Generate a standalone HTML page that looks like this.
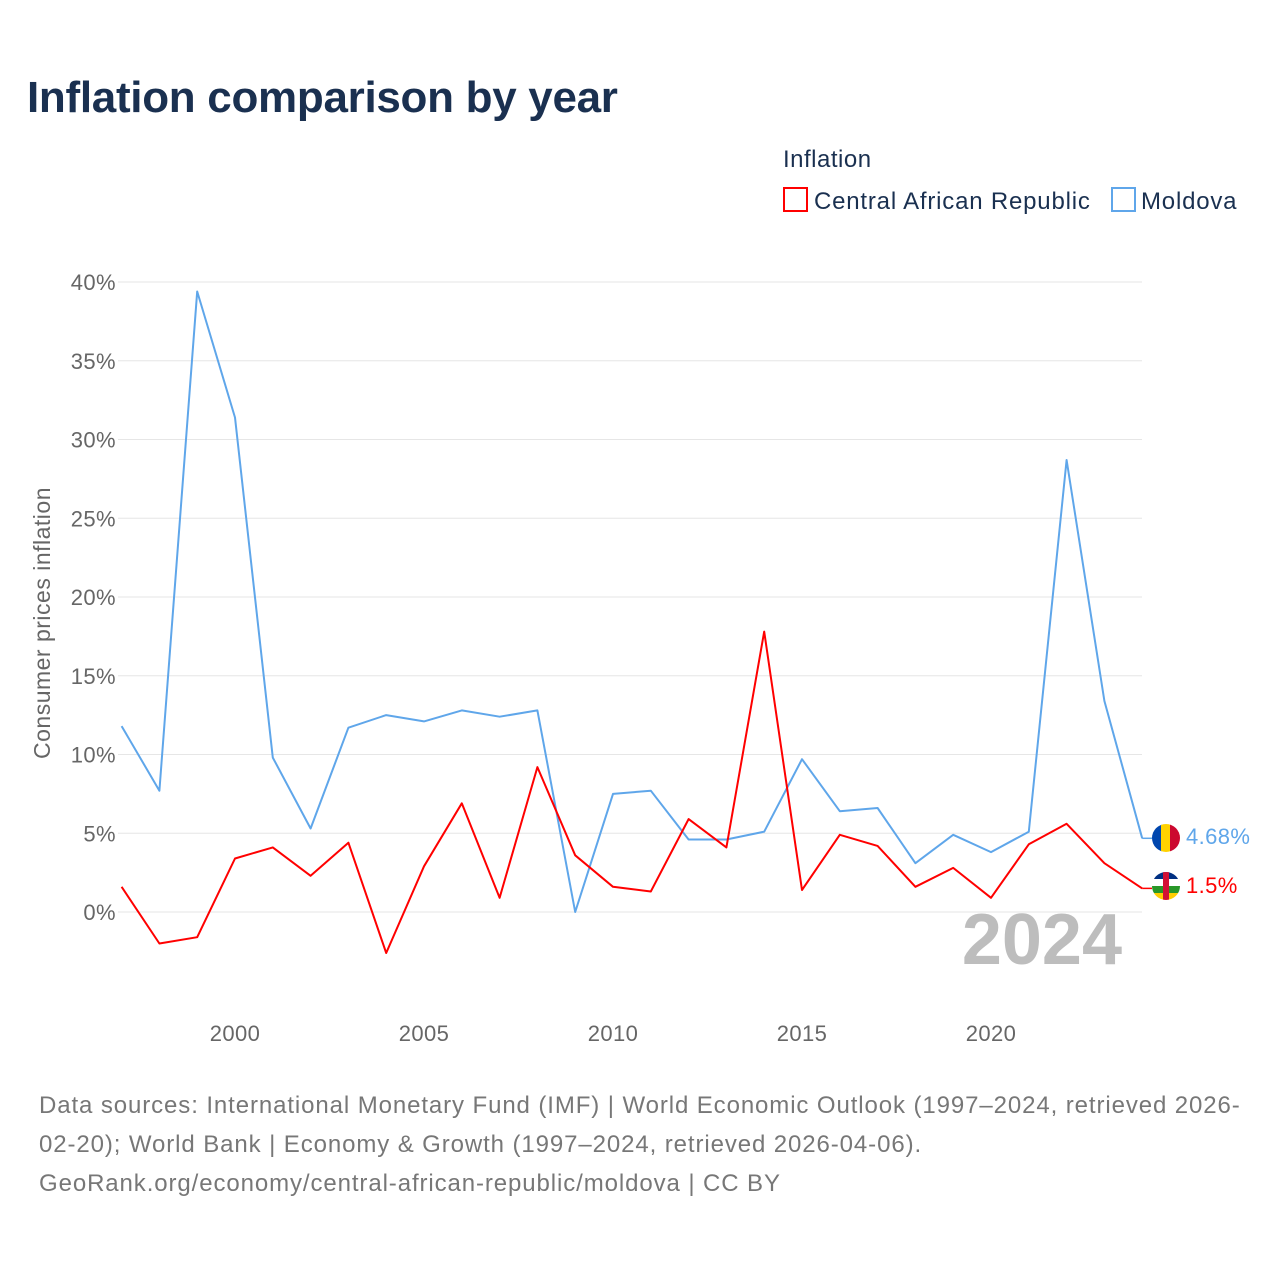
<!DOCTYPE html>
<html><head><meta charset="utf-8">
<style>
body{margin:0;background:#fff;width:1280px;height:1280px;overflow:hidden;font-family:"Liberation Sans",sans-serif}
</style></head>
<body>
<svg id="chart" width="1280" height="1280" xmlns="http://www.w3.org/2000/svg" font-family="Liberation Sans, sans-serif">
<text x="27" y="112" font-size="44" font-weight="bold" fill="#1a3050" letter-spacing="-0.3">Inflation comparison by year</text>
<text x="783" y="167" font-size="24" fill="#1a3050" letter-spacing="0.5">Inflation</text>
<rect x="784" y="188" width="23" height="23" fill="none" stroke="#f00" stroke-width="2"/>
<text x="814" y="209" font-size="24" fill="#1a3050" letter-spacing="0.8">Central African Republic</text>
<rect x="1112" y="188" width="23" height="23" fill="none" stroke="#5fa6ea" stroke-width="2"/>
<text x="1141" y="209" font-size="24" fill="#1a3050" letter-spacing="0.8">Moldova</text>
<g id="grid"></g>
<g id="yticks"></g>
<g id="xticks"></g>
<text transform="translate(50,623) rotate(-90)" text-anchor="middle" font-size="23" fill="#666" letter-spacing="0.5">Consumer prices inflation</text>
<text x="1122" y="964" text-anchor="end" font-size="72" font-weight="bold" fill="#bdbdbd">2024</text>
<g id="series"></g>
<g>
<clipPath id="c1"><circle cx="1166" cy="838" r="14"/></clipPath>
<g clip-path="url(#c1)"><rect x="1152" y="824" width="10" height="28" fill="#0046ae"/><rect x="1161" y="824" width="10" height="28" fill="#ffd200"/><rect x="1170" y="824" width="10" height="28" fill="#cc092f"/></g></g>
<g>
<clipPath id="c2"><circle cx="1166" cy="886" r="14"/></clipPath>
<g clip-path="url(#c2)"><rect x="1152" y="872" width="28" height="7" fill="#003082"/><rect x="1152" y="879" width="28" height="7" fill="#fff"/><rect x="1152" y="886" width="28" height="7" fill="#289728"/><rect x="1152" y="893" width="28" height="7" fill="#ffce00"/><rect x="1163" y="872" width="6" height="28" fill="#d21034"/></g></g>
<text x="1186" y="844" font-size="22" fill="#5fa6ea" letter-spacing="0.4">4.68%</text>
<text x="1186" y="893" font-size="22" fill="#f00" letter-spacing="0.4">1.5%</text>
<text font-size="24" fill="#777" letter-spacing="0.9"><tspan x="39" y="1113">Data sources: International Monetary Fund (IMF) | World Economic Outlook (1997–2024, retrieved 2026-</tspan><tspan x="39" y="1152">02-20); World Bank | Economy &amp; Growth (1997–2024, retrieved 2026-04-06).</tspan><tspan x="39" y="1191">GeoRank.org/economy/central-african-republic/moldova | CC BY</tspan></text>
</svg>
<script>
const years=[1997,1998,1999,2000,2001,2002,2003,2004,2005,2006,2007,2008,2009,2010,2011,2012,2013,2014,2015,2016,2017,2018,2019,2020,2021,2022,2023,2024];
const moldova=[11.8,7.7,39.4,31.4,9.8,5.3,11.7,12.5,12.1,12.8,12.4,12.8,0,7.5,7.7,4.6,4.6,5.1,9.7,6.4,6.6,3.1,4.9,3.8,5.1,28.7,13.4,4.68];
const car=[1.6,-2.0,-1.6,3.4,4.1,2.3,4.4,-2.6,2.9,6.9,0.9,9.2,3.6,1.6,1.3,5.9,4.1,17.8,1.4,4.9,4.2,1.6,2.8,0.9,4.3,5.6,3.1,1.5];
const yTicks=[0,5,10,15,20,25,30,35,40];
const xTicks=[2000,2005,2010,2015,2020];
const NS="http://www.w3.org/2000/svg";
const x=v=>121.6+(v-1997)*37.8;
const y=v=>912-v*15.75;
function mk(tag,attrs,parent){const e=document.createElementNS(NS,tag);for(const k in attrs)e.setAttribute(k,attrs[k]);parent.appendChild(e);return e;}
const grid=document.getElementById('grid'),yt=document.getElementById('yticks'),xt=document.getElementById('xticks'),ser=document.getElementById('series');
yTicks.forEach(t=>{
 const l=mk('line',{x1:118,x2:1142,y1:y(t),y2:y(t),stroke:'#e6e6e6','stroke-width':1},grid);
 
 
 const tx=mk('text',{x:116,y:y(t)+8,'text-anchor':'end','font-size':22,fill:'#666','letter-spacing':0.4},yt);
 tx.textContent=t+'%';
 
 
});
xTicks.forEach(t=>{
 const tx=mk('text',{x:x(t),y:1041,'text-anchor':'middle','font-size':22,fill:'#666','letter-spacing':0.4},xt);
 tx.textContent=t;
 
 
});
function line(vals,color,name){
 const d=vals.map((v,i)=>(i?'L':'M')+x(years[i]).toFixed(1)+','+y(v).toFixed(1)).join('');
 const p=mk('path',{d:d,fill:'none',stroke:color,'stroke-width':2,'stroke-linejoin':'round'},ser);
 
 
 const last=vals[vals.length-1];
 const c=mk('line',{x1:x(2024),x2:1152,y1:y(last),y2:y(last),stroke:color,'stroke-width':1.5},ser);
 
 
}
line(moldova,'#5fa6ea','moldova-line');
line(car,'#f00','car-line');
</script>
</body></html>
